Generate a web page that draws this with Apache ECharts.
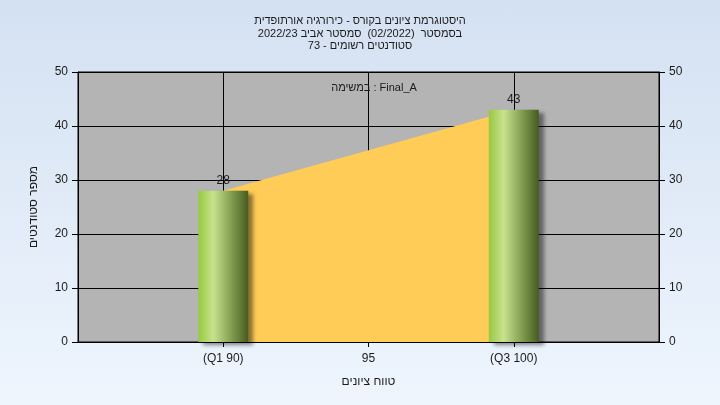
<!DOCTYPE html>
<html><head><meta charset="utf-8">
<script src="https://cdn.jsdelivr.net/npm/echarts@6/dist/echarts.min.js"></script>
<style>
html,body{margin:0;padding:0;}
#c{width:720px;height:405px;background:linear-gradient(to bottom,#d4e1f2 0%,#eef5fd 100%);}
</style></head>
<body><div id="c"></div>
<script>
const titleLines = ["היסטוגרמת ציונים בקורס - כירורגיה אורתופדית", "בסמסטר  (02/2022)  סמסטר אביב 2022/23", "סטודנטים רשומים - 73"];
const seriesLabel = "במשימה : Final_A";
const grades = [90, 100];
const counts = [28, 43];
const xTickValues = [90, 95, 100];
const xTickLabels = ["(Q1 90)", "95", "(Q3 100)"];
const yTicks = [0, 10, 20, 30, 40, 50];
const xName = "טווח ציונים";
const yName = "מספר סטודנטים";

const font = "Liberation Sans, Arial, sans-serif";
const txt = "#1b1b1b";
const pts = grades.map((g, i) => [g, counts[i]]);
const labelMap = {};
xTickValues.forEach((v, i) => labelMap[v] = xTickLabels[i]);

const chart = echarts.init(document.getElementById('c'), null, {renderer: 'canvas'});
const yAxisBase = {
  type: 'value', min: yTicks[0], max: yTicks[yTicks.length - 1], interval: 10,
  axisLine: {show: true, lineStyle: {color: '#000'}},
  axisTick: {show: true, length: 6, lineStyle: {color: '#000'}},
  axisLabel: {color: txt, fontSize: 12, fontFamily: font, margin: 10},
};
chart.setOption({
  backgroundColor: 'transparent',
  animation: false,
  title: [
    {text: titleLines.join('\n'), left: 'center', top: 10,
     textStyle: {fontSize: 11, fontWeight: 'normal', color: txt, fontFamily: font, lineHeight: 12.5}},
    {text: seriesLabel, left: 369, top: 77, textAlign: 'center',
     textStyle: {fontSize: 11, fontWeight: 'normal', color: txt, fontFamily: font}}
  ],
  grid: {left: 78, right: 61, top: 72, bottom: 63, show: true, backgroundColor: '#b4b4b4', borderColor: '#000', borderWidth: 1},
  xAxis: {
    type: 'value', min: 85, max: 105, interval: 5,
    name: xName, nameLocation: 'middle', nameGap: 34,
    nameTextStyle: {color: txt, fontSize: 12, fontFamily: font},
    axisLine: {show: true, lineStyle: {color: '#000'}},
    axisTick: {show: true, length: 5, customValues: xTickValues, lineStyle: {color: '#000'}},
    axisLabel: {color: txt, fontSize: 12, fontFamily: font, margin: 11, customValues: xTickValues,
      formatter: v => labelMap[v] || ''},
    splitLine: {show: true, lineStyle: {color: '#000', width: 1}}
  },
  yAxis: [
    Object.assign({}, yAxisBase, {position: 'left', name: yName, nameLocation: 'middle', nameGap: 38, nameRotate: 90,
      nameTextStyle: {color: txt, fontSize: 12, fontFamily: font},
      splitLine: {show: true, lineStyle: {color: '#000', width: 1}}}),
    Object.assign({}, yAxisBase, {position: 'right', splitLine: {show: false}})
  ],
  series: [
    {type: 'line', data: pts, symbol: 'none', z: 1,
     lineStyle: {width: 0}, areaStyle: {color: '#ffcc57', opacity: 1}, itemStyle: {color: '#ffcc57'}},
    {type: 'bar', data: pts, barWidth: 50, z: 3,
     itemStyle: {
       color: new echarts.graphic.LinearGradient(0, 0, 1, 0, [
         {offset: 0, color: '#98c840'}, {offset: 0.3, color: '#c8e28e'},
         {offset: 0.65, color: '#84a052'}, {offset: 1, color: '#465c1e'}]),
       shadowColor: 'rgba(0,0,0,0.45)', shadowOffsetX: 5, shadowOffsetY: 3, shadowBlur: 4
     },
     label: {show: true, position: 'top', distance: 4, color: txt, fontSize: 12, fontFamily: font,
       formatter: p => p.value[1]}}
  ]
});
</script></body></html>
